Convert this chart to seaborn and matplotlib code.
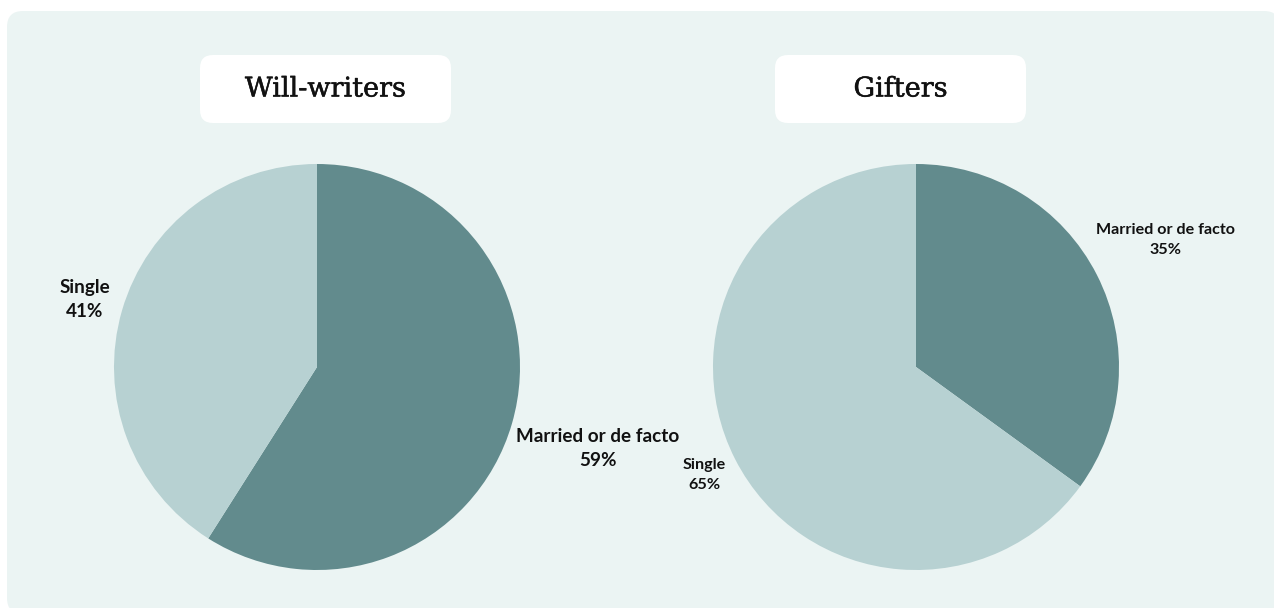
import numpy as np
import matplotlib
matplotlib.use("Agg")
import matplotlib.pyplot as plt
import matplotlib.patheffects as pe
from matplotlib.patches import FancyBboxPatch
from matplotlib.transforms import IdentityTransform
import seaborn as sns

# Relationship status shares for the two groups
titles = ["Will-writers", "Gifters"]
categories = ["Married or de facto", "Single"]
will_writers = [59, 41]
gifters = [35, 65]

sns.set_theme(style="white")
palette = sns.color_palette(["#628B8D", "#B7D1D2"])

W, H = 1274, 608
fig = plt.figure(figsize=(W / 100, H / 100), dpi=100)
fig.patch.set_facecolor("white")

# Light background panel with rounded corners (pixel coordinates)
panel = FancyBboxPatch((7, -6), 1273, 603,
                       boxstyle="round,pad=0,rounding_size=16",
                       transform=IdentityTransform(),
                       facecolor="#EBF4F3", edgecolor="none", zorder=-2)
fig.patches.append(panel)

radius_px = 203
centers_px = [(317, 367), (916, 367)]
title_boxes = [(200, 55, 251, 68), (775, 55, 251, 68)]
# radial distance of each label (in pie radii) and font size
label_dist = [[1.44, 1.19], [1.38, 1.17]]
label_size = [13.6, 11.6]

for i, (vals, title) in enumerate(zip([will_writers, gifters], titles)):
    cx, cy = centers_px[i]
    span = 1.6
    side = 2 * radius_px * span
    ax = fig.add_axes([(cx - side / 2) / W, 1 - (cy + side / 2) / H, side / W, side / H])
    ax.set_zorder(1)
    ax.patch.set_alpha(0)
    wedges, _ = ax.pie(vals, colors=palette, startangle=90, counterclock=False,
                       radius=1, wedgeprops=dict(linewidth=0))
    ax.set_xlim(-span, span)
    ax.set_ylim(-span, span)
    ax.set_aspect("equal")
    ax.axis("off")

    # labels placed along each wedge's middle angle
    for w, cat, v, d in zip(wedges, categories, vals, label_dist[i]):
        ang = np.deg2rad((w.theta1 + w.theta2) / 2)
        ax.text(d * np.cos(ang), d * np.sin(ang), f"{cat}\n{v}%",
                ha="center", va="center", fontsize=label_size[i],
                fontweight="bold", family="Lato", color="#111111",
                linespacing=1.5)

    # title in a white rounded box
    bx, by, bw, bh = title_boxes[i]
    box = FancyBboxPatch((bx, H - by - bh), bw, bh,
                         boxstyle="round,pad=0,rounding_size=13",
                         transform=IdentityTransform(),
                         facecolor="white", edgecolor="none", zorder=-1)
    fig.patches.append(box)
    fig.text((bx + bw / 2) / W, 1 - (by + bh / 2) / H, title,
             ha="center", va="center", fontsize=19.5, family="DejaVu Serif",
             color="#111111", zorder=5,
             path_effects=[pe.withStroke(linewidth=0.35, foreground="#111111")])

fig.savefig("out.png", dpi=100, facecolor=fig.get_facecolor())
